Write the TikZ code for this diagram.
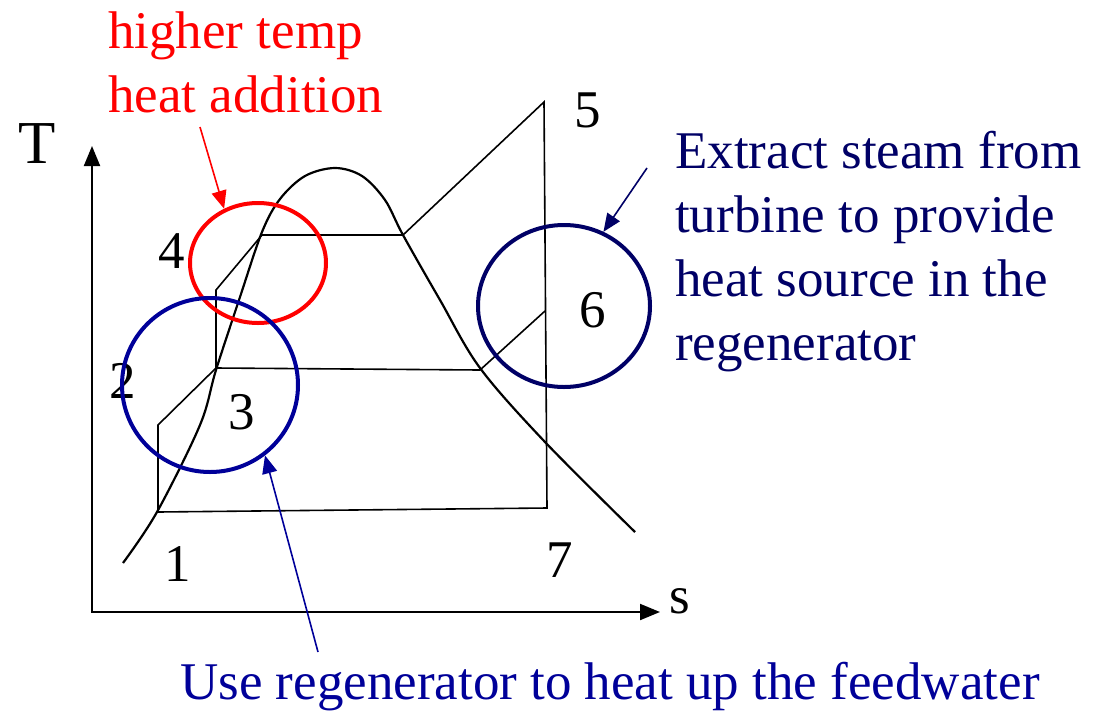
\documentclass[tikz,border=0pt]{standalone}
\usepackage{fontspec}
\setmainfont{Liberation Serif}
\usetikzlibrary{arrows.meta, shapes.geometric}

\definecolor{navy}{RGB}{0,0,102}
\definecolor{darkblue}{RGB}{0,0,153}

\begin{document}
\begin{tikzpicture}[x=1pt, y=-1pt,
    big/.style={font=\fontsize{53}{64}\selectfont},
    num/.style={big, inner sep=0pt},
    note/.style={big, align=left, anchor=base west, inner sep=0pt},
    ring/.style={ellipse, draw, line width=4pt, inner sep=0pt},
    cyc/.style={line width=1.6pt},
    dome/.style={line width=2.2pt},
    axis/.style={{Triangle[length=20pt, width=16pt]}-{Triangle[length=20pt, width=16pt]}, line width=2pt},
    arrow/.style={-{Triangle[length=18pt, width=15pt]}, line width=1.6pt}
]
\useasboundingbox (0,0) rectangle (1103,710);

% axes
\coordinate (ytop) at (92,146);
\coordinate (o) at (92,612);
\coordinate (xend) at (660,612);
\draw[axis] (ytop) -- (o) -- (xend);
\node[inner sep=0pt, anchor=base, font=\fontsize{61}{70}\selectfont] (T) at (37,163) {T};
\node[big, inner sep=0pt, anchor=base] (s) at (680,613) {s};

% saturation dome
\draw[dome] plot[smooth, tension=0.55] coordinates {(123,563) (157,512) (200,425)
    (216,370) (240,297) (262,232) (280,199) (305,176) (335,168) (362,176)
    (385,200) (403,235) (440,300) (480,368) (545,442) (635,532)};

% cycle
\coordinate (p1) at (158,512);
\coordinate (p2) at (158,425);
\coordinate (p3) at (216,368);
\coordinate (p3t) at (216,290);
\coordinate (p4) at (262,235);
\coordinate (p4g) at (403,235);
\coordinate (p5) at (544,102);
\coordinate (p7) at (547,508);
\coordinate (p6s) at (480,370);
\coordinate (p6) at (545,311);
\draw[cyc] (p1) -- (p2) -- (p3) -- (p3t) -- (p4) -- (p4g) -- (p5) -- (p7) -- cycle;
\draw[cyc] (p3) -- (p6s) -- (p6);

% state numbers
\node[num] (n1) at (178,564) {1};
\node[num] (n2) at (123,381) {2};
\node[num] (n3) at (242,412) {3};
\node[num] (n4) at (172,251) {4};
\node[num] (n5) at (588,110) {5};
\node[num] (n6) at (593,310) {6};
\node[num] (n7) at (560,560) {7};

% highlighted regions
\node[ring, red, minimum width=136pt, minimum height=120pt] (hot) at (258,263) {};
\node[ring, darkblue, minimum width=176pt, minimum height=174pt] (regen) at (210,385) {};
\node[ring, navy, minimum width=172pt, minimum height=162pt] (bleed) at (564,306) {};

% notes (anchored at the last line)
\node[note, red] (hotnote) at (108,112) {higher temp\\heat addition};
\node[note, navy] (bleednote) at (675,360) {Extract steam from\\turbine to provide\\heat source in the\\regenerator};
\node[note, darkblue] (regennote) at (180,699) {Use regenerator to heat up the feedwater};

\coordinate (hotsrc) at (200,127);
\coordinate (regensrc) at (318,652);
\coordinate (bleedsrc) at (647,168);
\draw[arrow, red] (hotsrc) -- (hot.122);
\draw[arrow, darkblue] (regensrc) -- (regen.-52);
\draw[arrow, navy] (bleedsrc) -- (bleed.62);

\end{tikzpicture}
\end{document}
